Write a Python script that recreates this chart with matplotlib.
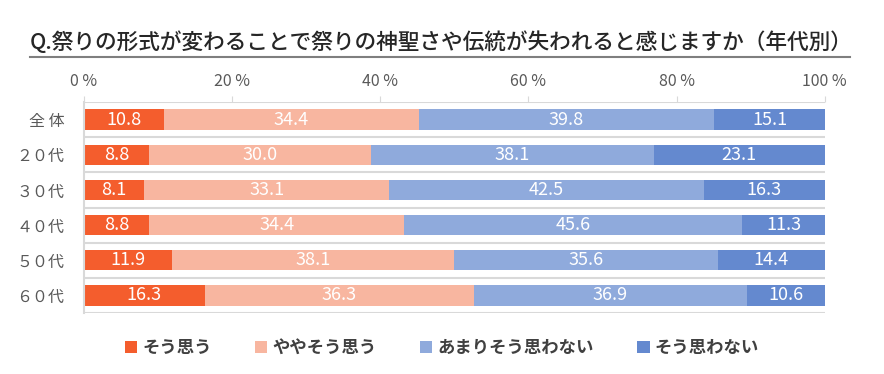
import numpy as np
import matplotlib.pyplot as plt

plt.rcParams['font.family'] = ['Noto Sans CJK JP', 'DejaVu Sans']

# Data
groups = ['全 体', '２０代', '３０代', '４０代', '５０代', '６０代']
series = ['そう思う', 'ややそう思う', 'あまりそう思わない', 'そう思わない']
agree = [10.8, 8.8, 8.1, 8.8, 11.9, 16.3]
some_agree = [34.4, 30.0, 33.1, 34.4, 38.1, 36.3]
not_much = [39.8, 38.1, 42.5, 45.6, 35.6, 36.9]
disagree = [15.1, 23.1, 16.3, 11.3, 14.4, 10.6]
colors = ['#F45D2D', '#F8B6A0', '#8FAADC', '#6489CF']

fig = plt.figure(figsize=(8.84, 3.74), dpi=100)
ax = fig.add_axes([0.095, 0.163, 0.838, 0.564])

y = np.arange(len(groups))
left = np.zeros(len(groups))
for vals, name, c in zip([agree, some_agree, not_much, disagree], series, colors):
    ax.barh(y, vals, left=left, height=0.58, color=c, label=name)
    for yi, l, v in zip(y, left, vals):
        ax.text(l + v / 2, yi, f'{v:.1f}', ha='center', va='center',
                color='white', fontsize=13)
    left += np.array(vals)

ax.set_xlim(0, 100)
ax.set_ylim(len(groups) - 0.5, -0.5)
ax.set_yticks(y)
ax.set_yticklabels(groups, fontsize=11.5, color='#595959')
ax.set_xticks([0, 20, 40, 60, 80, 100])
ax.set_xticklabels([f'{t} %' for t in [0, 20, 40, 60, 80, 100]],
                   fontsize=11.5, color='#595959')
ax.xaxis.tick_top()
ax.tick_params(axis='x', length=4, color='#D9D9D9', pad=5)
ax.tick_params(axis='y', length=0, pad=14)

# row separators
for b in np.arange(-0.5, len(groups), 1):
    ax.axhline(b, color='#D9D9D9', lw=1.5, zorder=0)
for s in ['top', 'right', 'bottom']:
    ax.spines[s].set_visible(False)
ax.spines['left'].set_color('#D9D9D9')
ax.spines['left'].set_linewidth(1.5)

# Title
fig.text(0.034, 0.885, 'Q.祭りの形式が変わることで祭りの神聖さや伝統が失われると感じますか（年代別）',
         fontsize=15.6, fontweight='medium', color='#262626', ha='left', va='center')
fig.add_artist(plt.Line2D([0.034, 0.962], [0.847, 0.847], color='#7F7F7F', lw=1.5))

fig.legend(loc='center', bbox_to_anchor=(0.5, 0.07), ncol=4, frameon=False,
           prop={'size': 12.5, 'weight': 'bold'}, handlelength=0.7,
           handleheight=0.7, handletextpad=0.3, columnspacing=2.5,
           labelcolor='#404040')

plt.savefig('out.png', dpi=100)
